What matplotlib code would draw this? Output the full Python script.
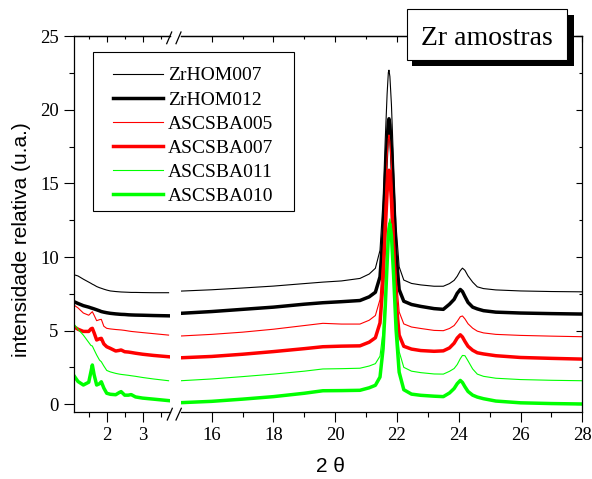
import matplotlib
matplotlib.use("Agg")
import matplotlib.pyplot as plt
from matplotlib.lines import Line2D
from matplotlib.patches import Rectangle
from matplotlib.ticker import FixedLocator, NullFormatter

# ---------------- data ----------------
series_names = ["ZrHOM007", "ZrHOM012", "ASCSBA005", "ASCSBA007", "ASCSBA011", "ASCSBA010"]
series_colors = ["#000000", "#000000", "#ff0000", "#ff0000", "#00ff00", "#00ff00"]
series_thick = [False, True, False, True, False, True]

x_low = [1.09, 1.2, 1.35, 1.5, 1.56, 1.6, 1.65, 1.72, 1.8, 1.85, 1.92, 2.0, 2.1, 2.25,
         2.35, 2.4, 2.5, 2.6, 2.68, 2.8, 3.0, 3.3, 3.72]
x_high = [15.0, 16, 17, 18, 19, 19.6, 20.2, 20.8,
          21.1, 21.3, 21.45, 21.55, 21.62, 21.68, 21.72, 21.74, 21.77, 21.82, 21.89, 21.97,
          22.07, 22.22, 22.47, 22.77,
          23.2, 23.5, 23.7, 23.85, 23.95, 24.05, 24.12, 24.2, 24.3, 24.45, 24.6, 24.8,
          25.2, 26, 27, 28]

zrhom007_low = [8.8, 8.72, 8.5, 8.3, 8.22, 8.16, 8.1, 8.0, 7.92, 7.88, 7.82, 7.76, 7.7, 7.66,
                7.64, 7.63, 7.62, 7.61, 7.6, 7.6, 7.59, 7.58, 7.58]
zrhom012_low = [6.97, 6.85, 6.7, 6.6, 6.55, 6.52, 6.48, 6.42, 6.35, 6.3, 6.26, 6.22, 6.18, 6.14,
                6.12, 6.11, 6.1, 6.08, 6.07, 6.06, 6.05, 6.03, 6.01]
ascsba005_low = [6.74, 6.55, 6.2, 6.05, 6.2, 6.29, 6.05, 5.68, 5.75, 5.77, 5.3, 5.16, 5.12, 5.08,
                 5.06, 5.05, 5.02, 4.98, 4.95, 4.92, 4.87, 4.8, 4.7]
ascsba007_low = [5.27, 5.1, 4.95, 4.95, 5.12, 5.16, 4.85, 4.37, 4.45, 4.48, 4.1, 3.91, 3.8, 3.62,
                 3.66, 3.69, 3.57, 3.55, 3.52, 3.47, 3.4, 3.32, 3.23]
ascsba011_low = [5.45, 5.1, 4.7, 4.2, 4.0, 3.96, 3.7, 3.35, 3.0, 2.89, 2.6, 2.3, 2.2, 2.1,
                 2.05, 2.03, 2.0, 1.97, 1.94, 1.9, 1.82, 1.72, 1.6]
ascsba010_low = [1.94, 1.55, 1.31, 1.5, 2.2, 2.67, 2.0, 1.31, 1.4, 1.53, 1.1, 0.75, 0.68, 0.65,
                 0.8, 0.86, 0.62, 0.62, 0.66, 0.5, 0.42, 0.35, 0.25]

zrhom007_high = [7.69, 7.78, 7.9, 8.03, 8.2, 8.3, 8.38, 8.55,
                 8.85, 9.24, 10.46, 13.87, 17.99, 21.08, 22.54, 22.7, 22.27, 20.36, 16.3, 12.11,
                 9.34, 8.44, 8.21, 8.11,
                 8.02, 8.02, 8.2, 8.42, 8.7, 9.08, 9.25, 9.1, 8.72, 8.3, 7.98, 7.86,
                 7.77, 7.7, 7.66, 7.64]
zrhom012_high = [6.18, 6.3, 6.45, 6.6, 6.8, 6.9, 6.97, 7.05,
                 7.3, 7.61, 8.66, 11.62, 15.18, 17.91, 19.19, 19.4, 18.98, 17.34, 13.84, 10.2,
                 7.79, 7.0, 6.78, 6.65,
                 6.5, 6.45, 6.8, 7.13, 7.54, 7.8, 7.66, 7.32, 6.92, 6.6, 6.48, 6.36,
                 6.26, 6.2, 6.16, 6.13]
ascsba005_high = [4.64, 4.75, 4.9, 5.1, 5.35, 5.5, 5.45, 5.45,
                  5.71, 6.03, 7.12, 10.2, 13.91, 16.73, 18.06, 18.3, 17.84, 16.14, 12.52, 8.77,
                  6.28, 5.46, 5.25, 5.15,
                  5.02, 5.0, 5.15, 5.35, 5.63, 5.95, 6.0, 5.8, 5.47, 5.17, 4.97, 4.85,
                  4.75, 4.68, 4.63, 4.59]
ascsba007_high = [3.16, 3.25, 3.4, 3.58, 3.78, 3.91, 3.95, 3.97,
                  4.22, 4.52, 5.53, 8.37, 11.81, 14.42, 15.65, 15.9, 15.44, 13.88, 10.51, 7.01,
                  4.7, 3.94, 3.75, 3.65,
                  3.6, 3.63, 3.83, 4.15, 4.5, 4.72, 4.57, 4.27, 3.94, 3.67, 3.5, 3.42,
                  3.3, 3.18, 3.12, 3.07]
ascsba011_high = [1.6, 1.72, 1.88, 2.05, 2.25, 2.4, 2.42, 2.45,
                  2.6, 2.76, 3.27, 4.99, 7.53, 10.17, 11.78, 12.29, 12.6, 11.87, 9.49, 6.18,
                  3.58, 2.51, 2.25, 2.15,
                  2.06, 2.05, 2.24, 2.43, 2.7, 3.1, 3.32, 3.3, 2.95, 2.4, 2.05, 1.9,
                  1.77, 1.68, 1.63, 1.6]
ascsba010_high = [0.11, 0.2, 0.35, 0.52, 0.75, 0.92, 0.93, 0.95,
                  1.12, 1.29, 1.85, 3.78, 6.62, 9.56, 11.39, 11.94, 12.27, 11.45, 8.78, 5.08,
                  2.18, 0.99, 0.69, 0.61,
                  0.55, 0.52, 0.77, 1.07, 1.4, 1.62, 1.48, 1.19, 0.87, 0.62, 0.49, 0.38,
                  0.22, 0.1, 0.05, 0.02]

low_values = [zrhom007_low, zrhom012_low, ascsba005_low, ascsba007_low, ascsba011_low, ascsba010_low]
high_values = [zrhom007_high, zrhom012_high, ascsba005_high, ascsba007_high, ascsba011_high, ascsba010_high]

xticks_low = [2, 3]
xminor_low = [1.5, 2.5, 3.5]
xticks_high = [16, 18, 20, 22, 24, 26, 28]
xminor_high = [17, 19, 21, 23, 25, 27]
yticks = [0, 5, 10, 15, 20, 25]
yminor = [2.5, 7.5, 12.5, 17.5, 22.5]

# ---------------- figure ----------------
plt.rcParams["font.family"] = ["Liberation Serif", "DejaVu Serif"]
W, H = 592, 479
fig = plt.figure(figsize=(W / 100, H / 100), dpi=100)


def fx(px):
    return px / W


def fy(py):
    return 1 - py / H


TOP, BOT = 36.3, 411.5
ax_l = fig.add_axes([fx(74), fy(BOT), fx(170) - fx(74), fy(TOP) - fy(BOT)])
ax_r = fig.add_axes([fx(180.8), fy(BOT), fx(582.3) - fx(180.8), fy(TOP) - fy(BOT)])

THIN, THICK = 0.8, 2.5
for lo, hi, c, thick in zip(low_values, high_values, series_colors, series_thick):
    lw = THICK if thick else THIN
    ax_l.plot(x_low, lo, color=c, lw=lw)
    ax_r.plot(x_high, hi, color=c, lw=lw)

for ax in (ax_l, ax_r):
    ax.set_ylim(-0.49, 25)
    ax.yaxis.set_major_locator(FixedLocator(yticks))
    ax.yaxis.set_minor_locator(FixedLocator(yminor))
    for s in ax.spines.values():
        s.set_linewidth(0.9)

ax_l.spines["right"].set_visible(False)
ax_r.spines["left"].set_visible(False)

ax_l.set_xlim(1.09, 3.76)
ax_l.xaxis.set_major_locator(FixedLocator(xticks_low))
ax_l.xaxis.set_minor_locator(FixedLocator(xminor_low))
ax_r.set_xlim(15.0, 28)
ax_r.xaxis.set_major_locator(FixedLocator(xticks_high))
ax_r.xaxis.set_minor_locator(FixedLocator(xminor_high))

for ax in (ax_l, ax_r):
    ax.tick_params(axis="x", which="both", direction="out", bottom=True, top=False,
                   labelsize=13.5, pad=4, width=0.8)
    ax.tick_params(axis="x", which="major", length=7)
    ax.tick_params(axis="x", which="minor", length=3.5)

ax_l.tick_params(axis="y", which="both", direction="out", left=True, right=False,
                 labelsize=13.5, pad=4, width=0.8)
ax_l.tick_params(axis="y", which="major", length=7)
ax_l.tick_params(axis="y", which="minor", length=3.5)

ax_r.tick_params(axis="y", which="both", direction="in", left=False, right=True,
                 labelleft=False, labelright=False, width=0.8)
ax_r.tick_params(axis="y", which="major", length=4)
ax_r.tick_params(axis="y", which="minor", length=2.5)

# inward ticks on the top edge
for ax, maj, mnr in ((ax_l, xticks_low, xminor_low), (ax_r, xticks_high, xminor_high)):
    sec = ax.secondary_xaxis("top")
    sec.xaxis.set_major_locator(FixedLocator(maj))
    sec.xaxis.set_minor_locator(FixedLocator(mnr))
    sec.xaxis.set_major_formatter(NullFormatter())
    sec.tick_params(axis="x", which="both", direction="in", labeltop=False, width=0.8)
    sec.tick_params(axis="x", which="major", length=4)
    sec.tick_params(axis="x", which="minor", length=2.5)
    sec.spines["top"].set_linewidth(0.9)

# axis break marks
for (x0, y0, x1, y1) in [(167.3, 420, 172.3, 408.3), (176, 420, 181.3, 408.3),
                         (166.7, 43.7, 171.7, 32), (176, 43.7, 181, 32)]:
    fig.add_artist(Line2D([fx(x0), fx(x1)], [fy(y0), fy(y1)], color="black", lw=0.9,
                          zorder=20))

# axis labels
fig.text(fx(21.7), fy(239.5), "intensidade relativa (u.a.)", rotation=90, ha="center",
         va="center", fontsize=15, family=["Liberation Sans", "DejaVu Sans"])
fig.text(fx(330), fy(467), "2 \u03b8", ha="center", va="center", fontsize=15,
         family=["Liberation Sans", "DejaVu Sans"])

# legend box
fig.add_artist(Rectangle((fx(92.7), fy(210.7)), fx(294) - fx(92.7), fy(52.3) - fy(210.7),
                         facecolor="white", edgecolor="black", lw=0.8, zorder=15))
for i, (name, c, thick) in enumerate(zip(series_names, series_colors, series_thick)):
    yrow = 73.5 + i * 24.1
    fig.add_artist(Line2D([fx(113), fx(163)], [fy(yrow), fy(yrow)], color=c,
                          lw=THICK if thick else THIN, zorder=16))
    fig.text(fx(168), fy(yrow + 7), name, ha="left", va="baseline", fontsize=14, zorder=16)

# title box with shadow
fig.add_artist(Rectangle((fx(412), fy(65.5)), fx(573.5) - fx(412), fy(14.8) - fy(65.5),
                         facecolor="black", edgecolor="none", zorder=17))
fig.add_artist(Rectangle((fx(406.7), fy(60)), fx(567.3) - fx(406.7), fy(9.3) - fy(60),
                         facecolor="white", edgecolor="black", lw=0.8, zorder=18))
fig.text(fx(487), fy(45), "Zr amostras", ha="center", va="baseline", fontsize=20, zorder=19)

fig.savefig("out.png", dpi=100)
